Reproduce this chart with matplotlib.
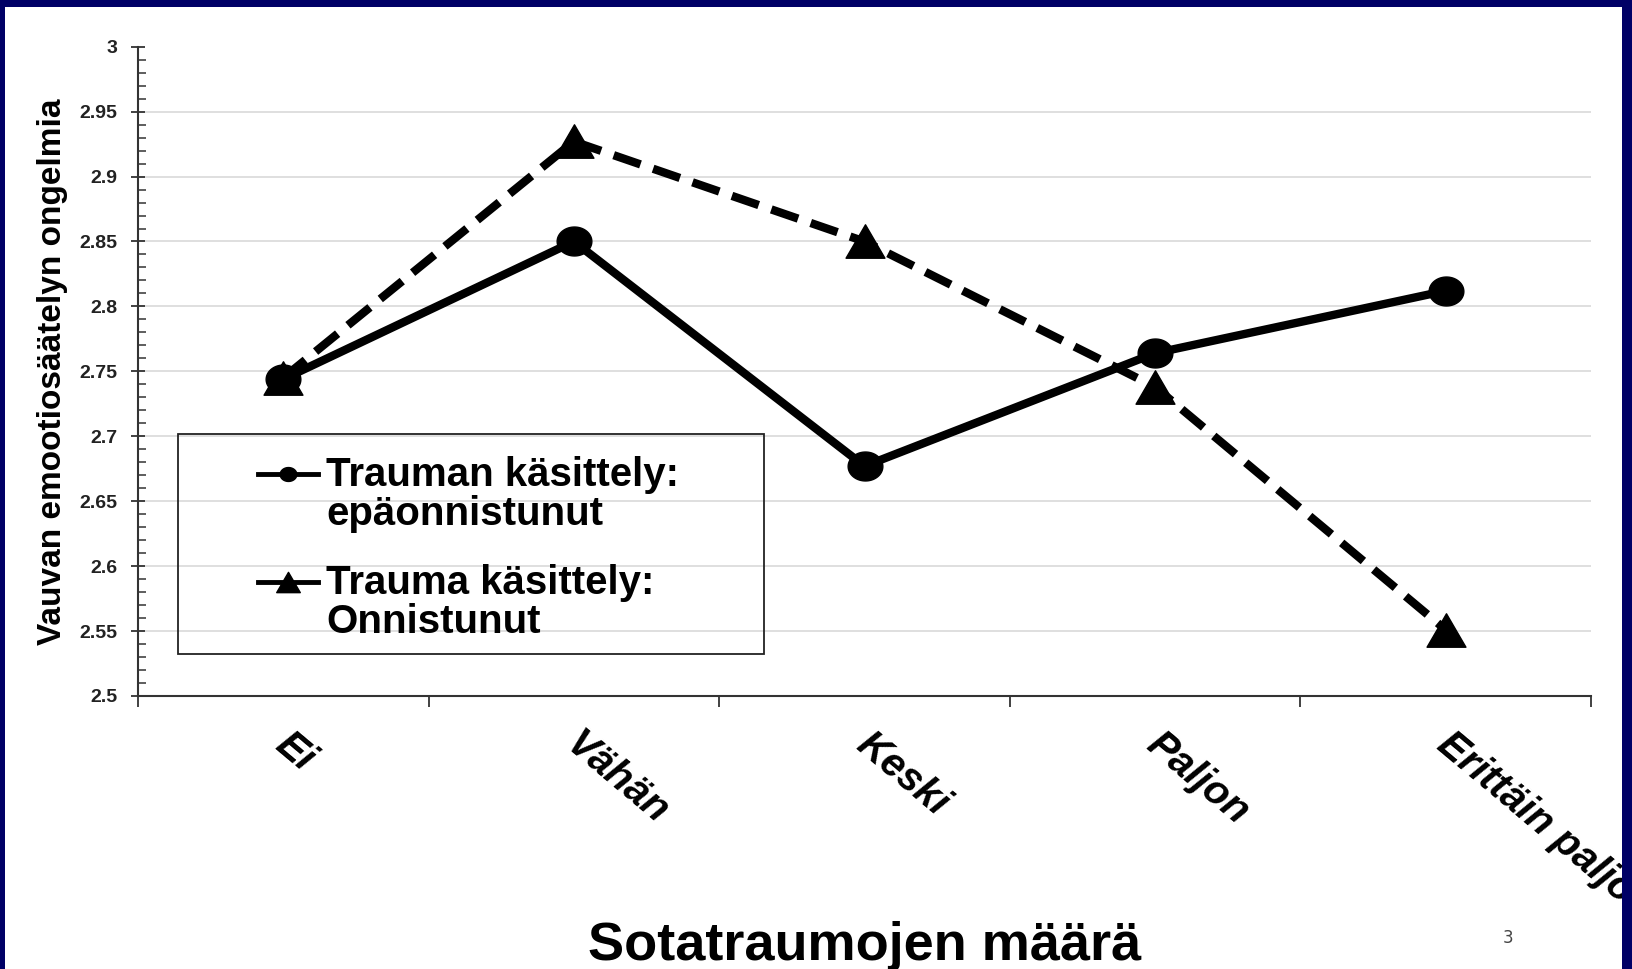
import matplotlib.pyplot as plt
import numpy as np
from matplotlib.path import Path
from matplotlib.patches import Rectangle
from matplotlib.lines import Line2D
import matplotlib.transforms as mtransforms

plt.rcParams['font.family'] = ['Liberation Sans', 'DejaVu Sans']

# data
categories = ['Ei', 'Vähän', 'Keski', 'Paljon', 'Erittäin paljon']
failed = [2.744, 2.850, 2.677, 2.764, 2.812]      # Trauman käsittely: epäonnistunut
succeeded = [2.745, 2.927, 2.850, 2.738, 2.551]   # Trauma käsittely: Onnistunut
yticks = [2.5, 2.55, 2.6, 2.65, 2.7, 2.75, 2.8, 2.85, 2.9, 2.95, 3.0]

navy = '#000066'

# slightly wide markers (the slide was stretched sideways)
t = np.linspace(0, 2 * np.pi, 73)
ellipse = Path(np.column_stack([np.cos(t), np.sin(t) / 1.2]), closed=True)
tri = Path([(0, 0.86), (-1, -0.86), (1, -0.86), (0, 0.86)], closed=True)

fig = plt.figure(figsize=(16.32, 9.69), dpi=100, facecolor='white')
W, H = 1632, 969
ax = fig.add_axes([138 / W, 273 / H, (1591 - 138) / W, (696 - 46.7) / H])
ax.set_facecolor('none')

x = np.arange(len(categories))
ax.plot(x, failed, color='black', lw=6, marker=ellipse, ms=25, zorder=4)
ax.plot(x, succeeded, color='black', lw=6, ls=(0, (3.4, 1.6)), marker=tri, ms=28,
        zorder=3)

ax.set_xlim(-0.5, len(categories) - 0.5)
ax.set_ylim(yticks[0], yticks[-1])

for s in ['top', 'right']:
    ax.spines[s].set_visible(False)
for s in ['left', 'bottom']:
    ax.spines[s].set_color('#333333')
    ax.spines[s].set_linewidth(1.5)

# y axis
ax.set_yticks(yticks, [f'{v:g}' for v in yticks])
ax.set_yticks(np.arange(2.5, 3.0001, 0.01), minor=True)
ax.tick_params(axis='y', which='major', direction='inout', length=10, width=1.3,
               color='#333333', pad=10, labelsize=14, labelcolor='#222222')
ax.tick_params(axis='y', which='minor', direction='in', length=6, width=1.1,
               color='#333333')
for lab in ax.get_yticklabels():
    lab.set_fontweight('bold')
ax.yaxis.grid(True, which='major', color='#dcdcdc', lw=1.3, zorder=0)
ax.yaxis.get_gridlines()[-1].set_visible(False)

# x axis
ax.set_xticks(x, categories, rotation=-40, ha='left', va='top',
              rotation_mode='anchor', fontsize=29, fontweight='bold',
              fontstyle='italic')
ax.set_xticks(np.arange(-0.5, len(categories), 1), minor=True)
ax.tick_params(axis='x', which='major', length=0, pad=21)
ax.tick_params(axis='x', which='minor', direction='out', length=8, width=1.3,
               color='#333333')
shift = mtransforms.ScaledTranslation(9 / 100, 0, fig.dpi_scale_trans)
for lab in ax.get_xticklabels():
    lab.set_transform(lab.get_transform() + shift)

ax.set_ylabel('Vauvan emootiosäätelyn ongelmia', fontsize=24,
              fontweight='bold', labelpad=8)
fig.text(865 / W, 1 - 946 / H, 'Sotatraumojen määrä', fontsize=39,
         fontweight='bold', ha='center', va='center')
fig.text(1508 / W, 1 - 938 / H, '3', fontsize=12, color='#444444',
         ha='center', va='center', family='DejaVu Sans')

# legend (a short spacer row separates the two two-line entries)
h1 = Line2D([], [], color='black', lw=3.5, marker=ellipse, ms=12)
h2 = Line2D([], [], color='black', lw=3.5, marker=tri, ms=17)
blank = Line2D([], [], ls='none')
leg = ax.legend([h1, blank, blank, h2, blank],
                ['Trauman käsittely:', 'epäonnistunut', '', 'Trauma käsittely:', 'Onnistunut'],
                loc='upper left', bbox_to_anchor=(258 / W, 1 - 456 / H),
                bbox_transform=fig.transFigure, frameon=False, borderpad=0,
                borderaxespad=0, handlelength=1.5, handleheight=0.3,
                handletextpad=0.2, labelspacing=0.03, numpoints=1,
                prop={'size': 29, 'weight': 'bold'})
leg.get_texts()[2].set_fontsize(17)
fig.patches.append(Rectangle((178 / W, 1 - 654 / H), (764 - 178) / W, (654 - 434) / H,
                             transform=fig.transFigure, fill=False,
                             edgecolor='#222222', lw=1.3, zorder=5))

# navy slide frame on top
for r in [(0, 1 - 7 / H, 1, 7 / H), (0, 0, 5 / W, 1), (1622 / W, 0, 10 / W, 1)]:
    fig.patches.append(Rectangle(r[:2], r[2], r[3], transform=fig.transFigure,
                                 facecolor=navy, edgecolor='none', zorder=10))

fig.savefig('out.png', dpi=100, facecolor=fig.get_facecolor())
